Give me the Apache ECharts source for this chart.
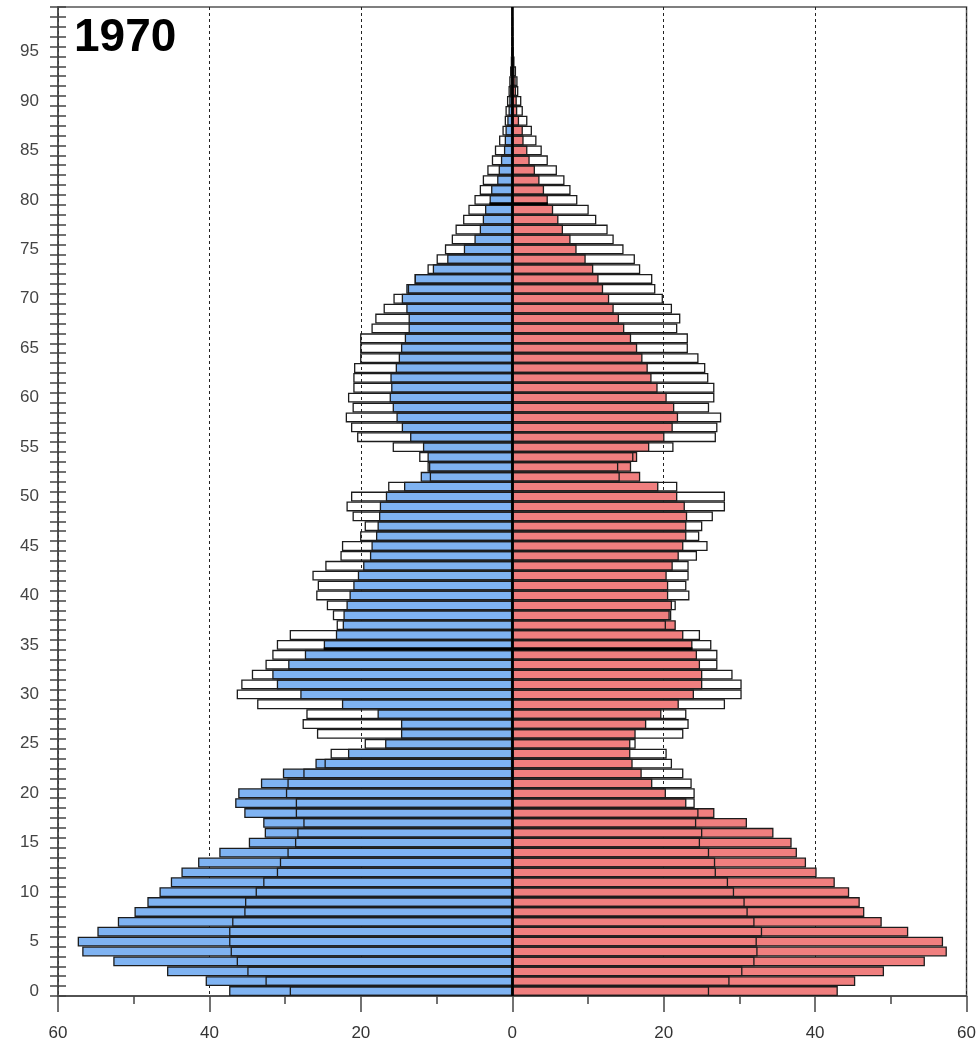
<!DOCTYPE html>
<html>
<head>
<meta charset="utf-8">
<script src="https://cdn.jsdelivr.net/npm/echarts@6/dist/echarts.min.js"></script>
<style>
  html, body { margin: 0; padding: 0; background: #fff; }
  #chart { width: 979px; height: 1051px; }
</style>
</head>
<body>
<div id="chart"></div>
<script>
// age groups 0..99, one bar per year
const ages = Array.from({ length: 100 }, (_, i) => String(i));

// 1970 (coloured bars), left = men, right = women
const maleNow = [
  37.4, 40.5, 45.6, 52.7, 56.8, 57.4, 54.8, 52.1, 49.9, 48.2,
  46.6, 45.1, 43.7, 41.5, 38.7, 34.8, 32.7, 32.9, 35.4, 36.6,
  36.2, 33.2, 30.3, 26.0, 21.7, 16.8, 14.7, 14.7, 17.8, 22.5,
  28.0, 31.1, 31.7, 29.6, 27.4, 24.9, 23.3, 22.4, 22.3, 21.9,
  21.5, 21.0, 20.4, 19.7, 18.8, 18.6, 18.0, 17.8, 17.6, 17.5,
  16.7, 14.3, 12.1, 11.0, 11.2, 11.8, 13.5, 14.6, 15.3, 15.8,
  16.2, 16.0, 16.1, 15.4, 15.0, 14.7, 14.2, 13.7, 13.7, 14.0,
  14.6, 14.0, 12.9, 10.5, 8.6, 6.4, 5.0, 4.3, 3.9, 3.6,
  3.0, 2.8, 2.0, 1.8, 1.5, 1.1, 1.0, 0.9, 0.66, 0.5,
  0.4, 0.3, 0.2, 0.15, 0.1, 0.08, 0.05, 0.04, 0.03, 0.02
];
const femaleNow = [
  43.0, 45.3, 49.1, 54.5, 57.4, 56.9, 52.3, 48.8, 46.5, 45.9,
  44.5, 42.6, 40.2, 38.8, 37.6, 36.9, 34.5, 31.0, 26.7, 23.0,
  20.3, 18.5, 17.1, 15.9, 15.6, 15.6, 16.3, 17.7, 19.7, 22.0,
  24.0, 25.1, 25.1, 24.8, 24.4, 23.8, 22.6, 21.6, 20.8, 21.1,
  20.6, 20.6, 20.4, 21.2, 22.0, 22.6, 23.0, 23.0, 23.1, 22.8,
  21.8, 19.3, 16.9, 15.7, 16.5, 18.1, 20.1, 21.2, 21.9, 21.4,
  20.4, 19.2, 18.4, 17.9, 17.2, 16.5, 15.7, 14.8, 14.1, 13.4,
  12.8, 12.0, 11.4, 10.7, 9.7, 8.5, 7.7, 6.7, 6.1, 5.4,
  4.7, 4.2, 3.6, 3.0, 2.3, 2.0, 1.5, 1.4, 0.9, 0.66,
  0.6, 0.5, 0.45, 0.3, 0.2, 0.15, 0.1, 0.08, 0.05, 0.03
];

// comparison pyramid (outline bars)
const maleOld = [
  29.4, 32.6, 35.0, 36.4, 37.2, 37.4, 37.4, 37.0, 35.4, 35.3,
  33.9, 32.9, 31.1, 30.7, 29.7, 28.7, 28.4, 27.6, 28.6, 28.6,
  29.9, 29.7, 27.6, 24.8, 24.0, 19.5, 25.8, 27.7, 27.2, 33.7,
  36.4, 35.8, 34.4, 32.6, 31.7, 31.1, 29.4, 23.2, 23.7, 24.5,
  25.9, 25.7, 26.4, 24.7, 22.7, 22.5, 20.1, 19.5, 21.1, 21.9,
  21.3, 16.4, 10.9, 11.2, 12.3, 15.8, 20.5, 21.3, 22.0, 21.1,
  21.7, 21.0, 21.0, 20.9, 20.1, 20.1, 20.1, 18.6, 18.1, 17.0,
  15.7, 13.8, 12.9, 11.2, 10.0, 8.9, 8.0, 7.5, 6.5, 5.8,
  5.0, 4.3, 3.9, 3.3, 2.7, 2.3, 1.75, 1.3, 1.0, 0.9,
  0.7, 0.5, 0.4, 0.3, 0.2, 0.15, 0.1, 0.08, 0.05, 0.03
];
const femaleOld = [
  26.0, 28.7, 30.4, 32.0, 32.4, 32.3, 33.0, 32.0, 31.1, 30.7,
  29.3, 28.5, 26.9, 26.8, 26.0, 24.8, 25.1, 24.3, 24.6, 24.1,
  24.1, 23.7, 22.6, 21.1, 20.4, 16.3, 22.6, 23.3, 23.0, 28.1,
  30.3, 30.3, 29.1, 27.1, 27.1, 26.3, 24.8, 20.3, 21.0, 21.6,
  23.4, 23.0, 23.3, 23.3, 24.4, 25.8, 24.7, 25.1, 26.5, 28.1,
  28.1, 21.8, 14.2, 14.0, 16.0, 21.3, 26.9, 27.1, 27.6, 26.0,
  26.7, 26.7, 25.9, 25.5, 24.6, 23.2, 23.2, 21.8, 22.2, 21.1,
  19.9, 18.9, 18.5, 16.9, 16.2, 14.7, 13.4, 12.6, 11.1, 10.1,
  8.6, 7.7, 6.9, 5.9, 4.7, 3.9, 3.2, 2.6, 2.0, 1.4,
  1.2, 0.8, 0.7, 0.5, 0.3, 0.2, 0.15, 0.1, 0.08, 0.05
];

// ages whose lower edge is drawn as a heavy cohort line
const markerAges = [35, 80];

const xTicks = [-60, -40, -20, 0, 20, 40, 60];
const yearLabel = '1970';

const chart = echarts.init(document.getElementById('chart'), null, { renderer: 'canvas' });

const edge = { borderColor: '#1c1c1c', borderWidth: 1.3 };
const axisColor = '#444';
const font = '"Liberation Sans", Arial, sans-serif';

function barSeries(values, sign, color, z) {
  return {
    type: 'bar',
    yAxisIndex: 0,
    data: values.map(v => sign * v),
    barGap: '-100%',
    barCategoryGap: '0%',
    itemStyle: Object.assign({ color: color }, edge),
    emphasis: { disabled: true },
    z: z,
  };
}

// heavy line along the bottom of a band, spanning the coloured bars
function renderCohortLine(params, api) {
  const age = api.value(2);
  const a = api.coord([api.value(0), age]);
  const b = api.coord([api.value(1), age]);
  const h = api.size([0, 1])[1];
  const y = a[1] + h / 2 - 1;
  return {
    type: 'line',
    shape: { x1: a[0], y1: y, x2: b[0], y2: y },
    style: { stroke: '#000', lineWidth: 3 },
  };
}

const option = {
  animation: false,
  backgroundColor: '#fff',
  grid: {
    left: 58, right: 9, top: 7, bottom: 55,
    show: true,
    borderColor: '#555',
    borderWidth: 1.5,
  },
  xAxis: {
    type: 'value',
    min: xTicks[0],
    max: xTicks[xTicks.length - 1],
    interval: 20,
    axisLine: { show: true, onZero: false, lineStyle: { color: axisColor, width: 1.5 } },
    axisTick: { show: true, length: 16, lineStyle: { color: axisColor, width: 1.5 } },
    minorTick: { show: true, splitNumber: 2, length: 8, lineStyle: { color: axisColor, width: 1.5 } },
    axisLabel: {
      formatter: v => String(Math.abs(v)),
      fontSize: 17, color: '#333', fontFamily: font, margin: 29,
    },
    splitLine: { show: true, lineStyle: { color: '#222', type: [3, 3], width: 1 } },
  },
  yAxis: [
    {
      type: 'category',
      data: ages,
      position: 'left',
      axisLine: { show: true, onZero: false, lineStyle: { color: axisColor, width: 1.5 } },
      axisTick: { show: true, interval: 0, length: 8, lineStyle: { color: axisColor, width: 1.5 } },
      axisLabel: {
        interval: 4, fontSize: 17, color: '#444', fontFamily: font, margin: 19,
      },
      splitLine: { show: false },
    },
    {
      // inward half of the tick marks
      type: 'category',
      data: ages,
      position: 'left',
      axisLine: { show: false, onZero: false },
      axisTick: { show: true, inside: true, interval: 0, length: 8, lineStyle: { color: axisColor, width: 1.5 } },
      axisLabel: { show: false },
      splitLine: { show: false },
    },
  ],
  series: [
    barSeries(maleNow, -1, '#7fb3f2', 2),
    barSeries(femaleNow, 1, '#f07f7f', 2),
    barSeries(maleOld, -1, 'rgba(255,255,255,0)', 3),
    Object.assign(barSeries(femaleOld, 1, 'rgba(255,255,255,0)', 3), {
      markLine: {
        silent: true,
        symbol: 'none',
        label: { show: false },
        lineStyle: { color: '#000', width: 2.5, type: 'solid' },
        data: [{ xAxis: 0 }],
      },
    }),
    {
      type: 'custom',
      yAxisIndex: 0,
      renderItem: renderCohortLine,
      encode: { x: [0, 1], y: 2 },
      data: markerAges.map(a => [-maleNow[a], femaleNow[a], a]),
      silent: true,
      z: 4,
    },
  ],
  graphic: [
    {
      type: 'text',
      left: 74,
      top: 15,
      style: { text: yearLabel, font: 'bold 46px ' + font, fill: '#000' },
    },
  ],
};

chart.setOption(option);
</script>
</body>
</html>
